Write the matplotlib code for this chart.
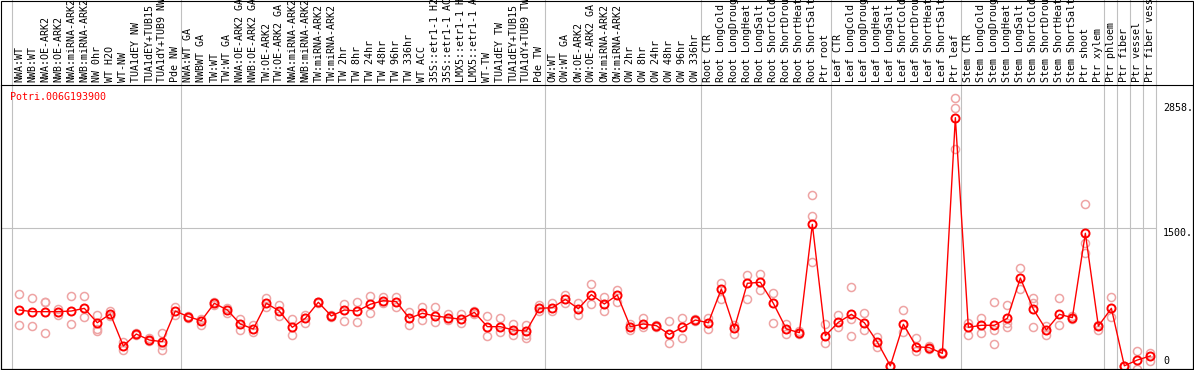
import matplotlib
matplotlib.use('Agg')
import matplotlib.pyplot as plt
import matplotlib.transforms as mtransforms
from matplotlib.patches import Rectangle

geneId = 'Potri.006G193900'

sampleNames = [
    'NWA:WT', 'NWB:WT', 'NWA:OE-ARK2', 'NWB:OE-ARK2', 'NWA:miRNA-ARK2', 'NWB:miRNA-ARK2',
    'NW 0hr', 'WT H2O', 'WT-NW', 'TUA1dEY NW', 'TUA1dEY+TUB15', 'TUA1dY+TUB9 NW', 'Pde NW',
    'NWA:WT GA', 'NWBWT GA', 'TW:WT', 'TW:WT GA', 'NWA:OE-ARK2 GA', 'NWB:OE-ARK2 GA',
    'TW:OE-ARK2', 'TW:OE-ARK2 GA', 'NWA:miRNA-ARK2', 'NWB:miRNA-ARK2', 'TW:miRNA-ARK2',
    'TW:miRNA-ARK2', 'TW 2hr', 'TW 8hr', 'TW 24hr', 'TW 48hr', 'TW 96hr', 'TW 336hr',
    'WT ACC', '35S::etr1-1 H2O', '35S::etr1-1 ACC', 'LMX5::etr1-1 H2O', 'LMX5::etr1-1 ACC',
    'WT-TW', 'TUA1dEY TW', 'TUA1dEY+TUB15', 'TUA1dY+TUB9 TW', 'Pde TW',
    'OW:WT', 'OW:WT GA', 'OW:OE-ARK2', 'OW:OE-ARK2 GA', 'OW:miRNA-ARK2', 'OW:miRNA-ARK2',
    'OW 2hr', 'OW 8hr', 'OW 24hr', 'OW 48hr', 'OW 96hr', 'OW 336hr',
    'Root CTR', 'Root LongCold', 'Root LongDrought', 'Root LongHeat', 'Root LongSalt',
    'Root ShortCold', 'Root ShortDrought', 'Root ShortHeat', 'Root ShortSalt', 'Ptr root',
    'Leaf CTR', 'Leaf LongCold', 'Leaf LongDrought', 'Leaf LongHeat', 'Leaf LongSalt',
    'Leaf ShortCold', 'Leaf ShortDrought', 'Leaf ShortHeat', 'Leaf ShortSalt', 'Ptr leaf',
    'Stem CTR', 'Stem LongCold', 'Stem LongDrought', 'Stem LongHeat', 'Stem LongSalt',
    'Stem ShortCold', 'Stem ShortDrought', 'Stem ShortHeat', 'Stem ShortSalt', 'Ptr shoot',
    'Ptr xylem', 'Ptr phloem', 'Ptr fiber', 'Ptr vessel', 'Ptr fiber vessel',
]

# samples per group (grey separators between groups)
groupSizes = [13, 28, 12, 10, 10, 11, 1, 1, 1, 1]

meanValues = [
    608, 590, 590, 590, 597, 626, 470, 565, 217, 347, 282, 264, 597,
    535, 492, 681, 608, 456, 402, 681, 597, 420, 518, 692, 543, 608, 597, 670, 709, 698,
    518, 572, 543, 525, 507, 583, 427, 427, 391, 380, 626,
    633, 723, 622, 775, 673, 771, 427, 456, 438, 343, 420, 499,
    470, 836, 409, 898, 909, 681, 402, 362, 1538, 329,
    474, 561, 470, 260, 2, 453, 210, 199, 137, 2696,
    420, 442, 442, 518, 955, 616, 391, 561, 525, 1441, 434,
    626, 2, 65, 109,
]

replicateValues = [
    [782, 445], [735, 434], [698, 692, 362], [616, 554], [760, 456], [760, 535],
    [554, 398, 380], [600, 545], [174, 264], [360, 335], [300, 270], [362, 228, 174], [644, 554],
    [545, 525], [445, 505], [662, 690], [626, 572], [507, 391], [445, 372], [735, 637],
    [662, 546], [507, 337], [554, 470], [700, 685], [550, 535], [673, 492], [698, 481],
    [760, 572], [746, 681], [746, 644], [590, 445], [637, 499], [637, 474], [565, 499],
    [561, 470], [600, 570], [543, 326], [518, 372], [456, 337], [445, 337, 300], [660, 600],
    [687, 597], [771, 681], [687, 554], [887, 670], [746, 597], [825, 698], [453, 391],
    [518, 427], [450, 425], [489, 246], [518, 300], [510, 490],
    [518, 398], [898, 724], [445, 347], [988, 727], [995, 825], [796, 463], [453, 344],
    [375, 350], [1857, 1629, 1126], [456, 246],
    [554, 427], [861, 507, 326], [572, 391], [318, 210], [5, 0], [608, 372], [300, 166],
    [215, 185], [150, 125], [2907, 2797, 2353],
    [470, 337], [518, 355], [692, 391, 236], [659, 463, 420], [1060, 833], [735, 687, 420],
    [434, 337], [735, 445], [540, 510], [1756, 1332, 1230], [391, 440],
    [746, 535], [0, 3], [163, -30], [144, 58],
]

yTickValues = [0, 1500, 2858]
yTickLabels = ['0', '1500.', '2858.']
gridValues = [1500]

monoFont = 'DejaVu Sans Mono'
fontSize = 7.2
greyLine = '#c0c0c0'
pink = '#eea4a4'

W, H = 1194, 370
fig = plt.figure(figsize=(W / 100, H / 100), dpi=100)

# plot area in pixels: x 1..1193, y 85..369 (from top)
ax = fig.add_axes([1 / W, 1 / H, 1192 / W, 284 / H])
xs = list(range(len(sampleNames)))
ax.set_xlim(-1.408, 90.28)
ax.set_ylim(-32.6, 3051)
ax.set_xticks([])
ax.set_yticks([])
for s in ax.spines.values():
    s.set_linewidth(0.8)
    s.set_color('black')

# group separators, running up through the header
headerTop = 369 / 284
seps = [-0.6]
pos = 0
for g in groupSizes:
    pos += g
    seps.append(pos - 0.6)
for sx in seps:
    ax.axvline(sx, ymin=0, ymax=headerTop, color=greyLine, lw=0.8, clip_on=False, zorder=1)

for gv in gridValues:
    ax.hlines(gv, -1.408, seps[-1], color=greyLine, lw=0.8, zorder=1)

# replicates
for x, reps in zip(xs, replicateValues):
    ax.plot([x] * len(reps), reps, 'o', ms=5.8, mfc='none', mec=pink, mew=1.1, zorder=2)

ax.plot(xs, meanValues, '-', color='red', lw=1.0, zorder=3)
ax.plot(xs, meanValues, 'o', ms=5.8, mfc='none', mec='red', mew=1.4, zorder=4)

# header labels
hdr = mtransforms.blended_transform_factory(ax.transData, ax.transAxes)
for x, name in zip(xs, sampleNames):
    ax.text(x, 1 + 3 / 284, name, transform=hdr, rotation=90, ha='center', va='bottom',
            fontsize=fontSize, family=monoFont, clip_on=False)

ax.text(9 / 1192, (369 - 97) / 284, geneId, transform=ax.transAxes, color='red',
        fontsize=fontSize, family=monoFont, va='center', ha='left')

# value labels at right
lab = mtransforms.blended_transform_factory(ax.transAxes, ax.transData)
for v, t in zip(yTickValues, yTickLabels):
    ax.text((1163 - 1) / 1192, v, t, transform=lab, fontsize=fontSize, family=monoFont,
            ha='left', va='bottom' if v == 0 else 'top')

# outer frame
fig.add_artist(Rectangle((1 / W, 1 / H), 1192 / W, 368.5 / H, transform=fig.transFigure,
                         fill=False, edgecolor='black', lw=0.8))

fig.savefig('out.png', dpi=100)
